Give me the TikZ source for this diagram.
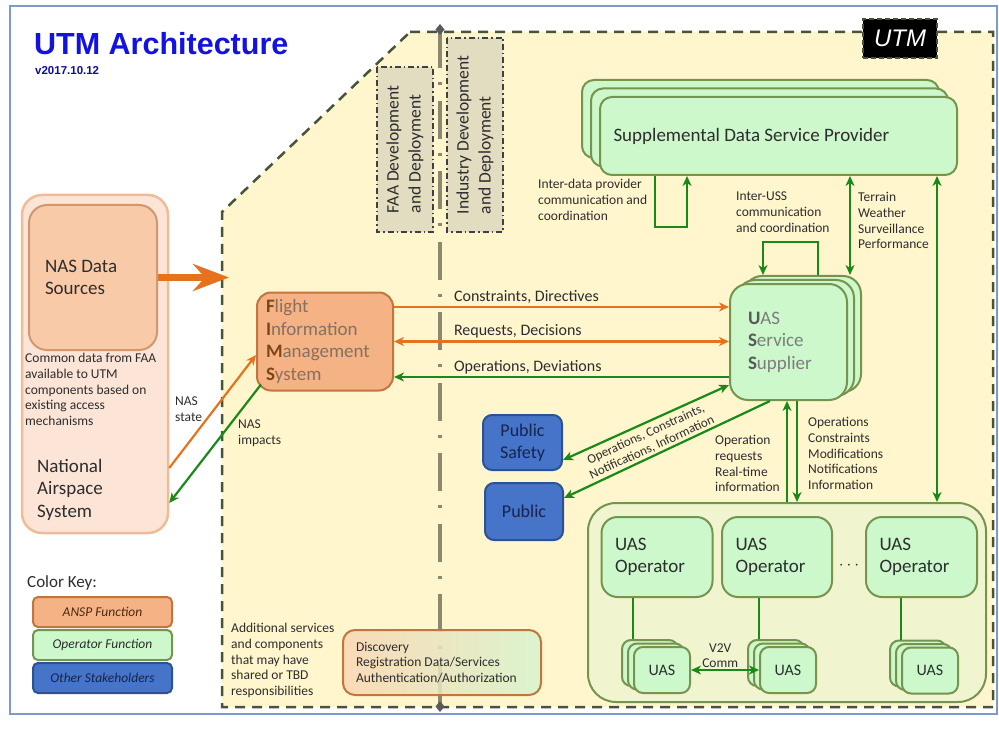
\documentclass[tikz,border=0pt]{standalone}
\usepackage{fontspec}
\setmainfont{Carlito}
\newfontfamily\arialfont{Liberation Sans}
\usetikzlibrary{calc}
\usetikzlibrary{positioning}
\usetikzlibrary{arrows.meta}

\definecolor{framecol}{RGB}{125,155,200}
\definecolor{titleblue}{RGB}{18,18,225}
\definecolor{utmbg}{RGB}{255,246,205}
\definecolor{utmline}{RGB}{72,84,58}
\definecolor{devgray}{RGB}{140,136,112}
\definecolor{devfill}{RGB}{226,220,192}
\definecolor{txt}{RGB}{45,45,45}
\definecolor{opfill}{RGB}{204,248,204}
\definecolor{opline}{RGB}{118,148,78}
\definecolor{grpfill}{RGB}{240,245,208}
\definecolor{ansfill}{RGB}{245,178,132}
\definecolor{ansline}{RGB}{192,118,64}
\definecolor{naspale}{RGB}{252,228,214}
\definecolor{nasline}{RGB}{240,188,152}
\definecolor{nasinner}{RGB}{248,202,168}
\definecolor{nasinline}{RGB}{208,152,112}
\definecolor{stakefill}{RGB}{70,116,200}
\definecolor{stakeline}{RGB}{45,82,148}
\definecolor{staketxt}{RGB}{22,36,78}
\definecolor{arrorange}{RGB}{229,115,30}
\definecolor{arrgreen}{RGB}{24,138,24}
\definecolor{fimstxt}{RGB}{135,112,95}
\definecolor{fimsbold}{RGB}{125,70,25}
\definecolor{usstxt}{RGB}{125,125,125}
\definecolor{ussbold}{RGB}{90,90,90}
\definecolor{discleft}{RGB}{250,214,180}
\definecolor{discright}{RGB}{214,244,206}

\newcommand{\labeltxt}{\fontsize{13.5}{15.8}\selectfont}
\newcommand{\flowtxt}{\fontsize{16}{19}\selectfont}
\newcommand{\bigtxt}{\fontsize{19}{22.5}\selectfont}

\tikzset{>={Stealth[length=10pt,width=9pt,inset=3pt]},
  every node/.style={align=center, text=txt},
  every edge/.style={ % connectors between the boxes
    draw, ->,
    line width=2.2pt},
  boxbase/.style={draw, rounded corners=12pt, line width=2pt, inner sep=0pt},
  opbox/.style={boxbase, fill=opfill, draw=opline},
  ansbox/.style={boxbase, fill=ansfill, draw=ansline},
  stakebox/.style={boxbase, fill=stakefill, draw=stakeline, rounded corners=9pt},
  uasbox/.style={opbox, rounded corners=9pt, minimum width=56pt, minimum height=46pt},
  devbox/.style={draw=black!75, fill=devfill, line width=1.5pt,
    dash pattern=on 6pt off 3pt on 1.5pt off 3pt, inner sep=0pt},
  keybox/.style={boxbase, rounded corners=5pt, minimum width=139pt,
    minimum height=30pt, font=\labeltxt\itshape},
  lbl/.style={font=\labeltxt, align=left, inner sep=0pt},
  flow/.style={font=\flowtxt, inner sep=2pt},
  oarrow/.style={draw=arrorange},
  garrow/.style={draw=arrgreen}}

\begin{document}
\begin{tikzpicture}[x=1pt, y=-1pt]
  \useasboundingbox (0,0) rectangle (999,730);

  % frame and title
  \draw[framecol, line width=1.2pt] (10,6) rectangle (997,714);
  \node[anchor=west, text=titleblue, inner sep=0pt,
    font=\arialfont\bfseries\fontsize{30.5}{34}\selectfont] (title) at (34,44) {UTM Architecture};
  \node[anchor=west, text=titleblue!70!black, inner sep=0pt,
    font=\arialfont\bfseries\fontsize{11.5}{13}\selectfont] (ver) at (35,71) {v2017.10.12};

  % UTM area and the FAA / industry split
  \draw[utmline, fill=utmbg, line width=2.5pt, dash pattern=on 10pt off 7pt]
    (410,32) -- (993,32) -- (993,707) -- (222,707) -- (222,212) -- cycle;
  \draw[devgray, line width=4pt, dash pattern=on 38pt off 14pt on 3pt off 15.5pt, dash phase=1.5pt,
    {Diamond[length=11pt,width=9pt,color=black!65]}-{Diamond[length=11pt,width=9pt,color=black!65]}]
    (440,24) -- (440,712);

  \node[devbox, rotate=90, minimum width=165pt, minimum height=56pt, align=left,
    font=\fontsize{17.5}{22}\selectfont] (faa) at (405,149.5) {FAA Development\\and Deployment};
  \node[devbox, rotate=90, minimum width=194pt, minimum height=56pt, align=left,
    font=\fontsize{17.5}{22}\selectfont] (ind) at (475,135) {Industry Development\\and Deployment};

  % NAS side
  \node[boxbase, fill=naspale, draw=nasline, line width=2.5pt, rounded corners=20pt,
    minimum width=146pt, minimum height=338pt] (nas) at (95,364) {};
  \node[boxbase, fill=nasinner, draw=nasinline, rounded corners=18pt, minimum width=128pt,
    minimum height=145pt, text width=96pt, align=flush left, font=\bigtxt] (nds) at (93,277.5) {NAS Data\\Sources};
  \node[lbl, anchor=north west] (common) at (25,353) {Common data from FAA\\available to UTM\\components based on\\existing access\\mechanisms};
  \node[lbl, anchor=north west, font=\bigtxt] (natair) at (37,459) {National\\Airspace\\System};
  \coordinate (nasin) at (229,277.5);
  \draw[arrorange, line width=7pt, -{Stealth[length=36pt,width=27pt,inset=12pt]}] (nds.east) -- (nasin);

  % supplemental data service provider
  \coordinate (sdspc) at (778.5,136);
  \node[opbox, minimum width=357pt, minimum height=78pt] (sdsp3) at ([shift={(-18pt,17pt)}]sdspc) {};
  \node[opbox, minimum width=357pt, minimum height=78pt] (sdsp2) at ([shift={(-9pt,8.5pt)}]sdspc) {};
  \node[opbox, minimum width=357pt, minimum height=78pt, text width=330pt, align=flush left,
    font=\bigtxt] (sdsp) at (sdspc) {Supplemental Data Service Provider};

  % UAS service supplier
  \coordinate (ussc) at (788.5,342);
  \node[opbox, rounded corners=18pt, minimum width=117pt, minimum height=116pt] (uss3) at ([shift={(14pt,8pt)}]ussc) {};
  \node[opbox, rounded corners=18pt, minimum width=117pt, minimum height=116pt] (uss2) at ([shift={(7pt,4pt)}]ussc) {};
  \node[opbox, rounded corners=18pt, minimum width=117pt, minimum height=116pt, text width=81pt,
    align=flush left, font=\bigtxt, text=usstxt] (uss) at (ussc)
    {{\color{ussbold}\textbf{U}}AS\\{\color{ussbold}\textbf{S}}ervice\\{\color{ussbold}\textbf{S}}upplier};

  % FIMS
  \node[ansbox, rounded corners=14pt, minimum width=136pt, minimum height=98pt, text width=118pt,
    align=flush left, font=\bigtxt, text=fimstxt] (fims) at (325,341.5)
    {{\color{fimsbold}\textbf{F}}light\\{\color{fimsbold}\textbf{I}}nformation\\{\color{fimsbold}\textbf{M}}anagement\\{\color{fimsbold}\textbf{S}}ystem};

  % other stakeholders
  \node[stakebox, minimum width=79pt, minimum height=55pt, text=staketxt,
    font=\fontsize{18}{22}\selectfont] (ps) at (522.5,442.5) {Public\\Safety};
  \node[stakebox, minimum width=78pt, minimum height=57pt, text=staketxt,
    font=\fontsize{18}{22}\selectfont] (pub) at (524,511.5) {Public};

  % operators and their UAS
  \node[boxbase, fill=grpfill, draw=opline, rounded corners=28pt, minimum width=398pt,
    minimum height=199pt] (grp) at (787,602.5) {};
  \node[opbox, rounded corners=16pt, minimum width=111pt, minimum height=80pt, text width=84pt,
    align=flush left, font=\bigtxt] (op1) at (657,557) {UAS\\Operator};
  \node[opbox, rounded corners=16pt, minimum width=110pt, minimum height=80pt, text width=83pt,
    align=flush left, font=\bigtxt, right=7.5pt of op1] (op2) {UAS\\Operator};
  \node[opbox, rounded corners=16pt, minimum width=111pt, minimum height=80pt, text width=84pt,
    align=flush left, font=\bigtxt, right=32pt of op2] (op3) {UAS\\Operator};
  \node[font=\fontsize{19}{19}\selectfont, inner sep=0pt] (dots) at (849,566) {$\cdots$};

  \coordinate (uas1c) at (662,670);
  \node[uasbox] (uas1b) at ([shift={(-12pt,7pt)}]uas1c) {};
  \node[uasbox] (uas1a) at ([shift={(-6pt,3.5pt)}]uas1c) {};
  \node[uasbox, font=\fontsize{16}{19}\selectfont] (uas1) at (uas1c) {UAS};
  \coordinate (uas2c) at (788,670);
  \node[uasbox] (uas2b) at ([shift={(-12pt,7pt)}]uas2c) {};
  \node[uasbox] (uas2a) at ([shift={(-6pt,3.5pt)}]uas2c) {};
  \node[uasbox, font=\fontsize{16}{19}\selectfont] (uas2) at (uas2c) {UAS};
  \coordinate (uas3c) at (930,670.5);
  \node[uasbox] (uas3b) at ([shift={(-12pt,7pt)}]uas3c) {};
  \node[uasbox] (uas3a) at ([shift={(-6pt,3.5pt)}]uas3c) {};
  \node[uasbox, font=\fontsize{16}{19}\selectfont] (uas3) at (uas3c) {UAS};

  \draw[arrgreen, line width=2.2pt] (op1.south -| uas1.west) -- (uas1b.north -| uas1.west);
  \draw[arrgreen, line width=2.2pt] (op2.south -| uas2.west) -- (uas2b.north -| uas2.west);
  \draw[arrgreen, line width=2.2pt] (op3.south -| uas3.west) -- (uas3b.north -| uas3.west);
  \draw (uas1.east) edge[garrow, <->] node[lbl, pos=0.43, anchor=south, align=center, inner sep=1pt] {V2V\\Comm} (uas2.west);

  % additional services
  \node[lbl, anchor=north west] (addl) at (231,623) {Additional services\\and components\\that may have\\shared or TBD\\responsibilities};
  \node[boxbase, draw=ansline, left color=discleft, right color=discright, fill opacity=0.85,
    text opacity=1, rounded corners=12pt, minimum width=198pt, minimum height=65pt, text width=172pt,
    align=flush left, font=\labeltxt] (disc) at (442,662.5) {Discovery\\Registration Data/Services\\Authentication/Authorization};

  % NAS <-> FIMS
  \draw ([yshift=-104pt]nas.east) edge[oarrow] ([yshift=-13.5pt]fims.west);
  \draw ([xshift=5pt,yshift=7pt]fims.south west) edge[garrow] ([yshift=-139pt]nas.east);
  \node[lbl, anchor=north west] (nasst) at (175,397) {NAS\\state};
  \node[lbl, anchor=north west] (nasimp) at (238,420) {NAS\\impacts};

  % FIMS <-> USS
  \coordinate (fA) at ([yshift=34.5pt]fims.east);
  \coordinate (fC) at ([yshift=-35.5pt]fims.east);
  \draw (fA) edge[oarrow] node[flow, pos=0.17, anchor=south west] {Constraints, Directives} (fA -| uss.west);
  \draw (fims.east) edge[oarrow, <->] node[flow, pos=0.17, anchor=south west] {Requests, Decisions} (fims.east -| uss.west);
  \draw (fC -| uss.west) edge[garrow] node[flow, pos=0.83, anchor=south west] {Operations, Deviations} (fC);

  % USS <-> public
  \draw ([yshift=-17.5pt]ps.east) edge[garrow, <->] ([yshift=-43pt]uss.west);
  \draw ([xshift=-18.5pt]uss.south) edge[garrow] ([yshift=13.5pt]pub.east);
  \node[lbl, rotate=24.6, align=center, font=\fontsize{13}{14.5}\selectfont] (psflow) at (649,441) {Operations, Constraints,\\Notifications, Information};

  % USS <-> operators
  \draw (grp.north) edge[garrow] (grp.north |- uss.south);
  \draw ([xshift=8.5pt]uss.south) edge[garrow] ([xshift=10pt]grp.north);
  \node[lbl, anchor=north west] (oplab) at (715,435) {Operation\\requests\\Real-time\\information};
  \node[lbl, anchor=north west] (usslab) at (808,417) {Operations\\Constraints\\Modifications\\Notifications\\Information};

  % SDSP links
  \draw[arrgreen, line width=2.2pt, ->] ([xshift=-123.5pt]sdsp.south) -- ++(0,51) -| ([xshift=-91.5pt]sdsp.south);
  \node[lbl, anchor=north west] (idplab) at (538,179) {Inter-data provider\\communication and\\coordination};
  \draw[arrgreen, line width=2.2pt, ->] ([xshift=15.5pt]uss3.north) -- ++(0,-33) -| ([xshift=-39.5pt]uss3.north);
  \node[lbl, anchor=north west] (isslab) at (736,192) {Inter-USS\\communication\\and coordination};
  \draw ([xshift=71.5pt]sdsp.south) edge[garrow, <->] ([xshift=47.5pt]uss3.north);
  \node[lbl, anchor=north west] (terlab) at (858,192) {Terrain\\Weather\\Surveillance\\Performance};
  \draw ([xshift=158.5pt]sdsp.south) edge[garrow, <->] ([xshift=150pt]grp.north);

  % color key
  \node[anchor=west, inner sep=0pt, font=\fontsize{17}{20}\selectfont] (keyhead) at (27,583) {Color Key:};
  \node[keybox, fill=ansfill, draw=ansline, text=fimsbold!60!black] (keyansp) at (102.5,612) {ANSP Function};
  \node[keybox, fill=opfill, draw=opline, below=1pt of keyansp] (keyop) {Operator Function};
  \node[keybox, fill=stakefill, draw=stakeline, text=staketxt, below=1pt of keyop] (keyoth) {Other Stakeholders};

  % UTM tag
  \node[fill=black, draw=utmline, line width=2pt, dash pattern=on 5pt off 3pt, text=white,
    font=\arialfont\itshape\fontsize{24}{26}\selectfont, minimum width=74pt, minimum height=39pt,
    inner sep=0pt] (utm) at (900,38.5) {UTM};
\end{tikzpicture}
\end{document}
